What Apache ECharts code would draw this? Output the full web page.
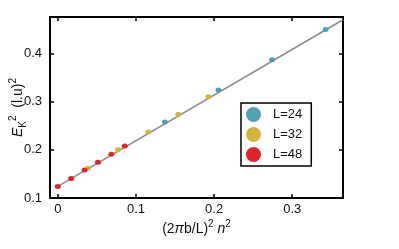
<!DOCTYPE html>
<html>
<head>
<meta charset="utf-8">
<script src="https://cdn.jsdelivr.net/npm/echarts@6/dist/echarts.min.js"></script>
<style>html,body{margin:0;padding:0;background:#fff}#c{width:399px;height:249px}</style>
</head>
<body>
<div id="c"></div>
<script>
// Data
const xTicks = [0, 0.1, 0.2, 0.3];
const yTicks = [0.1, 0.2, 0.3, 0.4];
const seriesNames = ['L=24', 'L=32', 'L=48'];
const L24_x = [0.137, 0.2056, 0.2742, 0.3427];
const L24_y = [0.258, 0.324, 0.387, 0.450];
const L32_x = [0.0386, 0.0771, 0.1157, 0.1542, 0.1928];
const L32_y = [0.162, 0.200, 0.237, 0.274, 0.310];
const L48_x = [0, 0.0171, 0.0343, 0.0514, 0.0685, 0.0857];
const L48_y = [0.124, 0.1405, 0.158, 0.174, 0.191, 0.208];
const fit_x = [0, 0.365];
const fit_y = [0.124, 0.470];
const colors = ['#4fa0b1', '#d3b43d', '#df2428'];

const zip = (xs, ys) => xs.map((x, i) => [x, ys[i]]);
const font = 'Liberation Sans, Arial, sans-serif';

const chart = echarts.init(document.getElementById('c'), null, {renderer: 'canvas'});
const axisCommon = {
  axisLine: {show: true, onZero: false, lineStyle: {color: '#000', width: 2}},
  axisTick: {show: true, inside: true, length: 4, lineStyle: {color: '#000', width: 1.5}},
  splitLine: {show: false},
  nameMoveOverlap: false
};
chart.setOption({
  animation: false,
  grid: {left: 50, top: 17, right: 56, bottom: 51, outerBoundsMode: 'none', containLabel: false},
  xAxis: [
    Object.assign({}, axisCommon, {
      type: 'value', min: -0.01, max: 0.365, position: 'bottom',
      axisTick: Object.assign({}, axisCommon.axisTick, {customValues: xTicks}),
      axisLabel: {customValues: xTicks, margin: 5, fontSize: 13, color: '#111', fontFamily: font},
      name: '(2{i|π}b/L){sup|2} {i|n}{sup|2}',
      nameLocation: 'middle', nameGap: 21,
      nameTextStyle: {
        fontSize: 14, color: '#111', fontFamily: font,
        rich: {
          i: {fontSize: 14, fontStyle: 'italic', fontFamily: font, color: '#111', lineHeight: 20},
          sup: {fontSize: 10, fontFamily: font, color: '#111', verticalAlign: 'top', lineHeight: 10}
        }
      }
    }),
    Object.assign({}, axisCommon, {
      type: 'value', min: -0.01, max: 0.365, position: 'top',
      axisTick: Object.assign({}, axisCommon.axisTick, {customValues: xTicks}),
      axisLabel: {show: false}
    })
  ],
  yAxis: [
    Object.assign({}, axisCommon, {
      type: 'value', min: 0.1, max: 0.4757, position: 'left',
      axisTick: Object.assign({}, axisCommon.axisTick, {customValues: yTicks}),
      axisLabel: {customValues: yTicks, margin: 8, fontSize: 13, color: '#111', fontFamily: font},
      name: '{i|E}{sub|K}{sup|2}  (l.u){sup|2}',
      nameLocation: 'middle', nameGap: 22, nameRotate: 90,
      nameTextStyle: {
        fontSize: 14, color: '#111', fontFamily: font, lineHeight: 20,
        rich: {
          i: {fontSize: 14, fontStyle: 'italic', fontFamily: font, color: '#111', lineHeight: 20},
          sub: {fontSize: 10, fontFamily: font, color: '#111', verticalAlign: 'bottom', lineHeight: 10},
          sup: {fontSize: 10, fontFamily: font, color: '#111', verticalAlign: 'top', lineHeight: 10}
        }
      }
    }),
    Object.assign({}, axisCommon, {
      type: 'value', min: 0.1, max: 0.4757, position: 'right',
      axisTick: Object.assign({}, axisCommon.axisTick, {customValues: yTicks}),
      axisLabel: {show: false}
    })
  ],
  legend: {
    data: seriesNames,
    orient: 'vertical', left: 241, top: 103,
    padding: [4, 9, 4, 5], itemGap: 5, itemWidth: 15, itemHeight: 15,
    icon: 'circle',
    borderColor: '#000', borderWidth: 1.5, backgroundColor: '#fff',
    textStyle: {fontSize: 13, color: '#111', fontFamily: font, padding: [0, 0, 0, 7]}
  },
  series: [
    {type: 'line', data: zip(fit_x, fit_y), symbol: 'none', lineStyle: {color: '#8a8a8a', width: 1.5}, silent: true, z: 1},
    {type: 'scatter', name: seriesNames[0], data: zip(L24_x, L24_y), symbolSize: [6, 5], itemStyle: {color: colors[0], opacity: 1}, z: 3},
    {type: 'scatter', name: seriesNames[1], data: zip(L32_x, L32_y), symbolSize: [6, 5], itemStyle: {color: colors[1], opacity: 1}, z: 3},
    {type: 'scatter', name: seriesNames[2], data: zip(L48_x, L48_y), symbolSize: [6, 5], itemStyle: {color: colors[2], opacity: 1}, z: 3}
  ]
});
</script>
</body>
</html>
